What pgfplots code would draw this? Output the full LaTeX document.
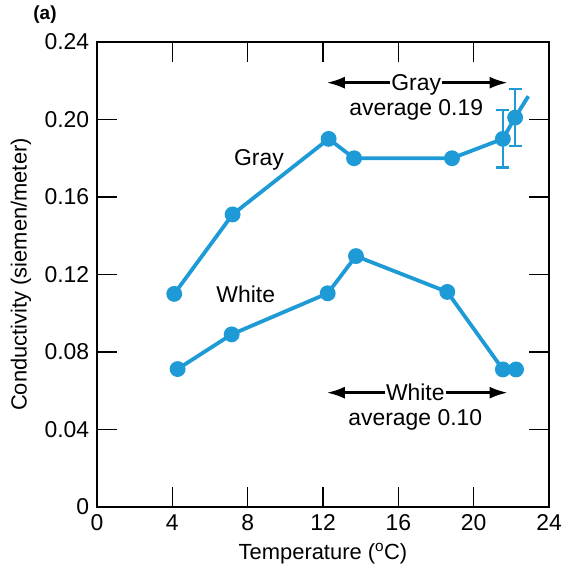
\documentclass[border=0pt]{standalone}
\usepackage{pgfplots}
\pgfplotsset{compat=1.18}
\usepackage{fontspec}
\setmainfont{Liberation Sans}
\usetikzlibrary{arrows.meta}
\definecolor{lineblue}{RGB}{30,155,215}
\begin{document}
\fontsize{23}{26}\selectfont
\begin{tikzpicture}[x=1bp,y=1bp]
\begin{axis}[
  at={(0,0)}, anchor=south west,
  scale only axis, width=452bp, height=465bp,
  xmin=0, xmax=24, ymin=0, ymax=0.24,
  xtick={0,4,...,24}, ytick={0,0.04,...,0.24},
  yticklabels={0,0.04,0.08,0.12,0.16,0.20,0.24},
  tick align=inside, major tick length=20bp,
  tick style={line width=1.2bp, black},
  axis line style={line width=1.5bp},
  /pgf/number format/assume math mode=true,
  tick label style={font=\fontsize{23}{26}\selectfont},
  xlabel={Temperature (\textsuperscript{o}C)}, ylabel={Conductivity (siemen/meter)},
  label style={font=\fontsize{22}{26}\selectfont},
  xlabel style={yshift=3bp}, ylabel style={yshift=-2bp},
  clip=false,
]
% Gray
\addplot[lineblue, line width=3.8bp, mark=*, mark size=6bp, mark options={solid}]
  coordinates {(4.1,0.110) (7.2,0.151) (12.3,0.190) (13.65,0.180) (18.85,0.180) (21.55,0.190) (22.2,0.201)};
\addplot[lineblue, line width=3.8bp] coordinates {(22.2,0.201) (22.9,0.212)};
\addplot[lineblue, line width=2.5bp, draw=none, mark=none,
  error bars/.cd, y dir=both, y explicit,
  error bar style={line width=2.5bp, lineblue},
  error mark options={rotate=90, mark size=6.5bp, line width=2.5bp, lineblue}]
  coordinates {(21.55,0.190) +- (0,0.0148) (22.2,0.201) +- (0,0.0148)};
% White
\addplot[lineblue, line width=3.8bp, mark=*, mark size=6bp]
  coordinates {(4.28,0.0712) (7.15,0.0891) (12.25,0.1103) (13.75,0.1295) (18.6,0.111) (21.55,0.071) (22.25,0.071)};
\addplot[lineblue, line width=3.8bp] coordinates {(22.25,0.071) (22.55,0.071)};
% annotations
\draw[line width=2.5bp, {Latex[length=18bp,width=12bp]}-{Latex[length=18bp,width=12bp]}] (axis cs:12.2,0.2190) -- (axis cs:21.8,0.2190);
\node[fill=white, inner xsep=1bp, inner ysep=0bp, text depth=0bp] at (axis cs:16.95,0.2190) {Gray};
\node[inner sep=0bp] at (axis cs:16.95,0.2050) {average 0.19};
\draw[line width=2.5bp, {Latex[length=18bp,width=12bp]}-{Latex[length=18bp,width=12bp]}] (axis cs:12.2,0.0590) -- (axis cs:21.8,0.0590);
\node[fill=white, inner xsep=1bp, inner ysep=0bp, text depth=0bp] at (axis cs:16.9,0.0590) {White};
\node[inner sep=0bp] at (axis cs:16.9,0.0450) {average 0.10};
\node at (axis cs:8.6,0.179) {Gray};
\node at (axis cs:7.9,0.110) {White};
\end{axis}
\node[font=\bfseries\fontsize{19}{22}\selectfont] at (-52,492) {(a)};
\pgfresetboundingbox
\path (-97,-59) rectangle (475,507);
\end{tikzpicture}
\end{document}
